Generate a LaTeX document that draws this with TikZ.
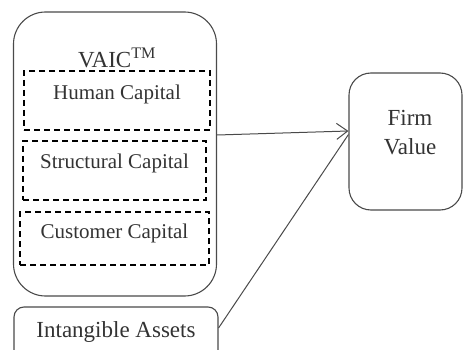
\documentclass[tikz,border=0pt]{standalone}
\usepackage{fontspec}
\setmainfont{Liberation Serif}
\usetikzlibrary{arrows.meta}
\definecolor{ink}{HTML}{333333}
\definecolor{edge}{HTML}{4A4A4A}
\begin{document}
\begin{tikzpicture}[x=1pt,y=-1pt,
  roundbox/.style={draw=edge, line width=1.1pt, inner sep=0pt},
  dashbox/.style={draw=black, line width=1.6pt, dash pattern=on 6pt off 4pt, inner sep=0pt},
  lbl/.style={text=ink, inner sep=0pt, font=\fontsize{21}{25}\selectfont},
  biglbl/.style={text=ink, inner sep=0pt, font=\fontsize{23}{27}\selectfont, align=center},
  conn/.style={draw=edge, line width=1pt},
  tip/.style={-{Straight Barb[length=11pt,width=16pt,line width=1pt]}}]
\useasboundingbox (0,0) rectangle (463,350);
\node[roundbox, rounded corners=32pt, minimum width=203pt, minimum height=284pt] (big) at (115,154) {};
\node[biglbl] (vaic) at (117,58) {VAIC\textsuperscript{TM}};
\node[dashbox, minimum width=186pt, minimum height=59pt] (hc) at (117,100.5) {};
\node[lbl] (hct) at (117,94) {Human Capital};
\node[dashbox, minimum width=183pt, minimum height=59pt] (sc) at (114.5,170.5) {};
\node[lbl] (sct) at (114.5,163) {Structural Capital};
\node[dashbox, minimum width=189pt, minimum height=53pt] (cc) at (114.5,238.5) {};
\node[lbl] (cct) at (114.5,233) {Customer Capital};
\node[roundbox, rounded corners=10pt, minimum width=204pt, minimum height=54pt] (ia) at (116,334) {};
\node[biglbl] (iat) at (116,332) {Intangible Assets};
\node[roundbox, rounded corners=22pt, minimum width=113pt, minimum height=137pt] (fv) at (405.5,141.5) {};
\node[biglbl] (fvt) at (410,133) {Firm\\[2pt]Value};
\draw[conn, tip] ([yshift=19pt]big.east) -- ([yshift=10.5pt]fv.west);
\draw[conn] ([yshift=6pt]ia.east) -- ([yshift=7pt]fv.west);
\end{tikzpicture}
\end{document}
